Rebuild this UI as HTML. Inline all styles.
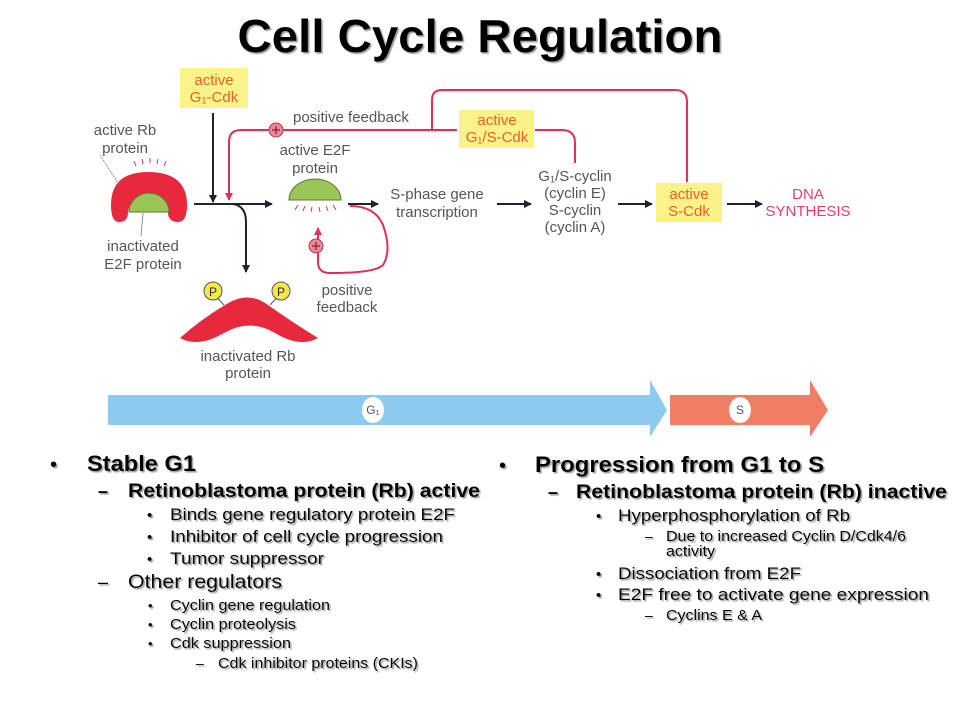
<!DOCTYPE html>
<html><head><meta charset="utf-8"><style>
html,body{margin:0;padding:0;background:#fff;}
svg{display:block;}
.d{font-family:"Liberation Sans",sans-serif;font-size:15px;fill:#555;}
.y{font-family:"Liberation Sans",sans-serif;font-size:15px;fill:#e8602a;}
.b{font-family:"Liberation Sans",sans-serif;fill:#000;}
</style></head><body>
<svg width="960" height="720" viewBox="0 0 960 720" xmlns="http://www.w3.org/2000/svg">
<defs>
<marker id="ak" markerWidth="8" markerHeight="8" refX="7" refY="4" orient="auto" markerUnits="userSpaceOnUse"><path d="M0,0 L8,4 L0,8 z" fill="#1e2333"/></marker>
<marker id="ar" markerWidth="8" markerHeight="8" refX="7" refY="4" orient="auto" markerUnits="userSpaceOnUse"><path d="M0,0 L8,4 L0,8 z" fill="#e0305a"/></marker>
<filter id="sh"><feDropShadow dx="1.5" dy="1.5" stdDeviation="0.6" flood-color="#999"/></filter>
</defs>
<text x="480" y="52" text-anchor="middle" class="b" font-size="46" font-weight="bold" filter="url(#sh)" textLength="485" lengthAdjust="spacingAndGlyphs">Cell Cycle Regulation</text>

<g fill="none" stroke="#e0305a" stroke-width="2">
<path d="M229,198 L229,142 Q229,130 241,130 L457,130"/>
<path d="M432,130 L432,100 Q432,90 442,90 L675,90 Q687,90 687,102 L687,182"/>
<path d="M535,130 L562,130 Q575,130 575,143 L575,163"/>
<path d="M350,206 Q375,206 383,225 Q392,250 383,265 Q375,273 330,273 Q318,273 318,262 L318,228" marker-end="url(#ar)"/>
</g>
<line x1="229" y1="190" x2="229" y2="200" stroke="#e0305a" stroke-width="2" marker-end="url(#ar)"/>
<g fill="#e88a9a" stroke="#c0304a" stroke-width="1">
<circle cx="276" cy="130" r="7"/><circle cx="316" cy="246" r="7"/></g>
<g stroke="#8a1a30" stroke-width="1.2"><path d="M272,130h8M276,126v8M312,246h8M316,242v8"/></g>

<g fill="#fbf38a">
<rect x="180" y="68" width="68" height="40"/>
<rect x="459" y="110" width="75" height="38"/>
<rect x="656" y="183" width="66" height="39"/>
</g>
<text x="214" y="85" text-anchor="middle" class="y">active</text>
<text x="214" y="102" text-anchor="middle" class="y">G₁-Cdk</text>
<text x="497" y="125" text-anchor="middle" class="y">active</text>
<text x="497" y="142" text-anchor="middle" class="y">G₁/S-Cdk</text>
<text x="689" y="199" text-anchor="middle" class="y">active</text>
<text x="689" y="216" text-anchor="middle" class="y">S-Cdk</text>

<g fill="none" stroke="#1e2333" stroke-width="2">
<line x1="213" y1="113" x2="213" y2="202" marker-end="url(#ak)"/>
<line x1="194" y1="204" x2="272" y2="204" marker-end="url(#ak)"/>
<path d="M233,204 Q246,206 246,222 L246,272" marker-end="url(#ak)"/>
<line x1="348" y1="204" x2="378" y2="204" marker-end="url(#ak)"/>
<line x1="497" y1="204" x2="531" y2="204" marker-end="url(#ak)"/>
<line x1="618" y1="204" x2="652" y2="204" marker-end="url(#ak)"/>
<line x1="727" y1="204" x2="762" y2="204" marker-end="url(#ak)"/>
</g>

<path d="M111,205 Q111,172 148,172 Q187,172 187,205 Q187,222 178,222 Q168,222 168,212 Q166,196 148,196 Q130,196 128,212 Q128,222 119,222 Q111,222 111,205 Z" fill="#e8283c"/>
<path d="M129,212 A20,19 0 0 1 169,212 Z" fill="#9cc558" stroke="#557a2a" stroke-width="1"/>
<line x1="100" y1="155" x2="120" y2="186" stroke="#777" stroke-width="0.8" stroke-dasharray="2,1"/>
<line x1="143" y1="213" x2="141" y2="236" stroke="#777" stroke-width="0.8"/>
<g stroke="#e0305a" stroke-width="1"><path d="M136,166l-2,-5M143,164l-1,-5M150,163v-5M157,164l1,-5M164,166l2,-5"/></g>

<path d="M289,200 A26,21 0 0 1 341,200 Z" fill="#9cc558" stroke="#557a2a" stroke-width="1"/>
<g stroke="#e0305a" stroke-width="1"><path d="M298,205l-3,5M305,206l-2,5M312,207l-1,5M319,207l1,5M326,206l2,5M333,205l3,5"/></g>

<path d="M180,338 Q200,320 225,305 Q248,290 268,305 Q292,322 318,338 Q300,348 275,333 Q250,318 224,333 Q198,348 180,338 Z" fill="#e8283c"/>
<line x1="213" y1="293" x2="224" y2="305" stroke="#555" stroke-width="1"/>
<line x1="281" y1="293" x2="270" y2="305" stroke="#555" stroke-width="1"/>
<g fill="#f2e84a" stroke="#555" stroke-width="1"><circle cx="213" cy="291" r="9"/><circle cx="281" cy="291" r="9"/></g>
<text x="213" y="296" text-anchor="middle" class="d" style="font-size:12px;fill:#333">P</text>
<text x="281" y="296" text-anchor="middle" class="d" style="font-size:12px;fill:#333">P</text>

<text x="125" y="135" text-anchor="middle" class="d">active Rb</text>
<text x="125" y="153" text-anchor="middle" class="d">protein</text>
<text x="143" y="251" text-anchor="middle" class="d">inactivated</text>
<text x="143" y="269" text-anchor="middle" class="d">E2F protein</text>
<text x="293" y="122" class="d">positive feedback</text>
<text x="315" y="155" text-anchor="middle" class="d">active E2F</text>
<text x="315" y="173" text-anchor="middle" class="d">protein</text>
<text x="437" y="199" text-anchor="middle" class="d">S-phase gene</text>
<text x="437" y="217" text-anchor="middle" class="d">transcription</text>
<text x="575" y="181" text-anchor="middle" class="d">G₁/S-cyclin</text>
<text x="575" y="198" text-anchor="middle" class="d">(cyclin E)</text>
<text x="575" y="215" text-anchor="middle" class="d">S-cyclin</text>
<text x="575" y="232" text-anchor="middle" class="d">(cyclin A)</text>
<text x="808" y="199" text-anchor="middle" class="d" style="fill:#e0406a">DNA</text>
<text x="808" y="216" text-anchor="middle" class="d" style="fill:#e0406a">SYNTHESIS</text>
<text x="347" y="295" text-anchor="middle" class="d">positive</text>
<text x="347" y="312" text-anchor="middle" class="d">feedback</text>
<text x="248" y="361" text-anchor="middle" class="d">inactivated Rb</text>
<text x="248" y="378" text-anchor="middle" class="d">protein</text>

<path d="M108,395 L650,395 L650,380 L667,410 L650,437 L650,425 L108,425 Z" fill="#8ccaf0"/>
<path d="M670,395 L810,395 L810,380 L828,410 L810,437 L810,425 L670,425 Z" fill="#f07e66"/>
<ellipse cx="373" cy="410" rx="11" ry="13" fill="#fff"/>
<ellipse cx="740" cy="410" rx="11" ry="13" fill="#fff"/>
<text x="373" y="414" text-anchor="middle" class="d" style="font-size:12px">G₁</text>
<text x="740" y="414" text-anchor="middle" class="d" style="font-size:12px">S</text>

<g class="b" filter="url(#sh)">
<text x="50" y="471" font-size="20">•</text>
<text x="87" y="471" font-size="22" font-weight="bold" textLength="109" lengthAdjust="spacingAndGlyphs">Stable G1</text>
<text x="98" y="497" font-size="18" font-weight="bold">–</text>
<text x="128" y="497" font-size="19.5" font-weight="bold" textLength="352" lengthAdjust="spacingAndGlyphs">Retinoblastoma protein (Rb) active</text>
<text x="147" y="520" font-size="15">•</text><text x="170" y="520" font-size="17" textLength="285" lengthAdjust="spacingAndGlyphs">Binds gene regulatory protein E2F</text>
<text x="147" y="542" font-size="15">•</text><text x="170" y="542" font-size="17" textLength="273" lengthAdjust="spacingAndGlyphs">Inhibitor of cell cycle progression</text>
<text x="147" y="564" font-size="15">•</text><text x="170" y="564" font-size="17" textLength="154" lengthAdjust="spacingAndGlyphs">Tumor suppressor</text>
<text x="98" y="588" font-size="18">–</text>
<text x="128" y="588" font-size="19" textLength="154" lengthAdjust="spacingAndGlyphs">Other regulators</text>
<text x="148" y="610" font-size="13">•</text><text x="170" y="610" font-size="15" textLength="160" lengthAdjust="spacingAndGlyphs">Cyclin gene regulation</text>
<text x="148" y="629" font-size="13">•</text><text x="170" y="629" font-size="15" textLength="126" lengthAdjust="spacingAndGlyphs">Cyclin proteolysis</text>
<text x="148" y="648" font-size="13">•</text><text x="170" y="648" font-size="15" textLength="121" lengthAdjust="spacingAndGlyphs">Cdk suppression</text>
<text x="196" y="668" font-size="14">–</text><text x="218" y="668" font-size="15" textLength="200" lengthAdjust="spacingAndGlyphs">Cdk inhibitor proteins (CKIs)</text>
</g>
<g class="b" filter="url(#sh)">
<text x="499" y="472" font-size="20">•</text>
<text x="535" y="472" font-size="22" font-weight="bold" textLength="289" lengthAdjust="spacingAndGlyphs">Progression from G1 to S</text>
<text x="548" y="498" font-size="18" font-weight="bold">–</text>
<text x="576" y="498" font-size="19.5" font-weight="bold" textLength="371" lengthAdjust="spacingAndGlyphs">Retinoblastoma protein (Rb) inactive</text>
<text x="596" y="521" font-size="15">•</text><text x="618" y="521" font-size="17" textLength="232" lengthAdjust="spacingAndGlyphs">Hyperphosphorylation of Rb</text>
<text x="645" y="541" font-size="14">–</text><text x="666" y="541" font-size="15" textLength="240" lengthAdjust="spacingAndGlyphs">Due to increased Cyclin D/Cdk4/6</text>
<text x="666" y="556" font-size="15" textLength="49" lengthAdjust="spacingAndGlyphs">activity</text>
<text x="596" y="579" font-size="15">•</text><text x="618" y="579" font-size="17" textLength="183" lengthAdjust="spacingAndGlyphs">Dissociation from E2F</text>
<text x="596" y="600" font-size="15">•</text><text x="618" y="600" font-size="17" textLength="311" lengthAdjust="spacingAndGlyphs">E2F free  to activate gene expression</text>
<text x="645" y="620" font-size="14">–</text><text x="666" y="620" font-size="15" textLength="96" lengthAdjust="spacingAndGlyphs">Cyclins E &amp; A</text>
</g>
</svg>
</body></html>
